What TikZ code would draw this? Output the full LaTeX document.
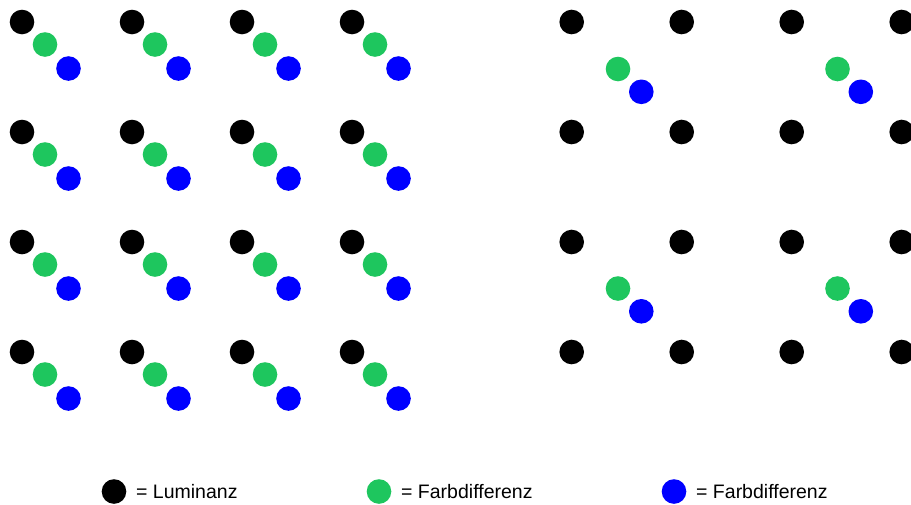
\documentclass[tikz,border=0pt]{standalone}
\usepackage{fontspec}
\setmainfont{Liberation Sans}
\usetikzlibrary{positioning}
\definecolor{chromagreen}{RGB}{30,198,94}

\begin{document}
\begin{tikzpicture}[
  x=1pt, y=-1pt,
  node distance=9.5pt,
  font=\fontsize{19.5}{23}\selectfont,
  dot/.style={circle, inner sep=0pt, minimum size=24.6pt},
  luma/.style={dot, fill=black},
  cb/.style={dot, fill=chromagreen},
  cr/.style={dot, fill=blue},
  lbl/.style={inner sep=0pt, text height=14pt, text depth=0pt}
]
\useasboundingbox (0,0) rectangle (911,504);

% full sampling: every pixel
\foreach \i in {0,...,3}
  \foreach \j in {0,...,3} {
    \node[luma] (a-\i-\j) at ({22+110*\i},{22+110*\j}) {};
    \node[cb] (ab-\i-\j) at ({45+110*\i},{44.5+110*\j}) {};
    \node[cr] (ar-\i-\j) at ({68.5+110*\i},{68.5+110*\j}) {};
  }

% subsampled: one chroma pair per 2x2 block
\foreach \i in {0,...,3}
  \foreach \j in {0,...,3}
    \node[luma] (b-\i-\j) at ({571.7+110*\i},{22+110*\j}) {};
\foreach \i in {0,1}
  \foreach \j in {0,1} {
    \node[cb] (bb-\i-\j) at ({618+219.5*\i},{69+219.5*\j}) {};
    \node[cr] (br-\i-\j) at ({641.3+219.5*\i},{91.8+219.5*\j}) {};
  }

% legend
\node[luma] (kl) at (114,491.5) {};
\node[lbl, right=of kl] (tl) {= Luminanz};
\node[cb] (kb) at (379,491.5) {};
\node[lbl, right=of kb] (tb) {= Farbdifferenz};
\node[cr] (kr) at (674,491.5) {};
\node[lbl, right=of kr] (tr) {= Farbdifferenz};

\end{tikzpicture}
\end{document}
